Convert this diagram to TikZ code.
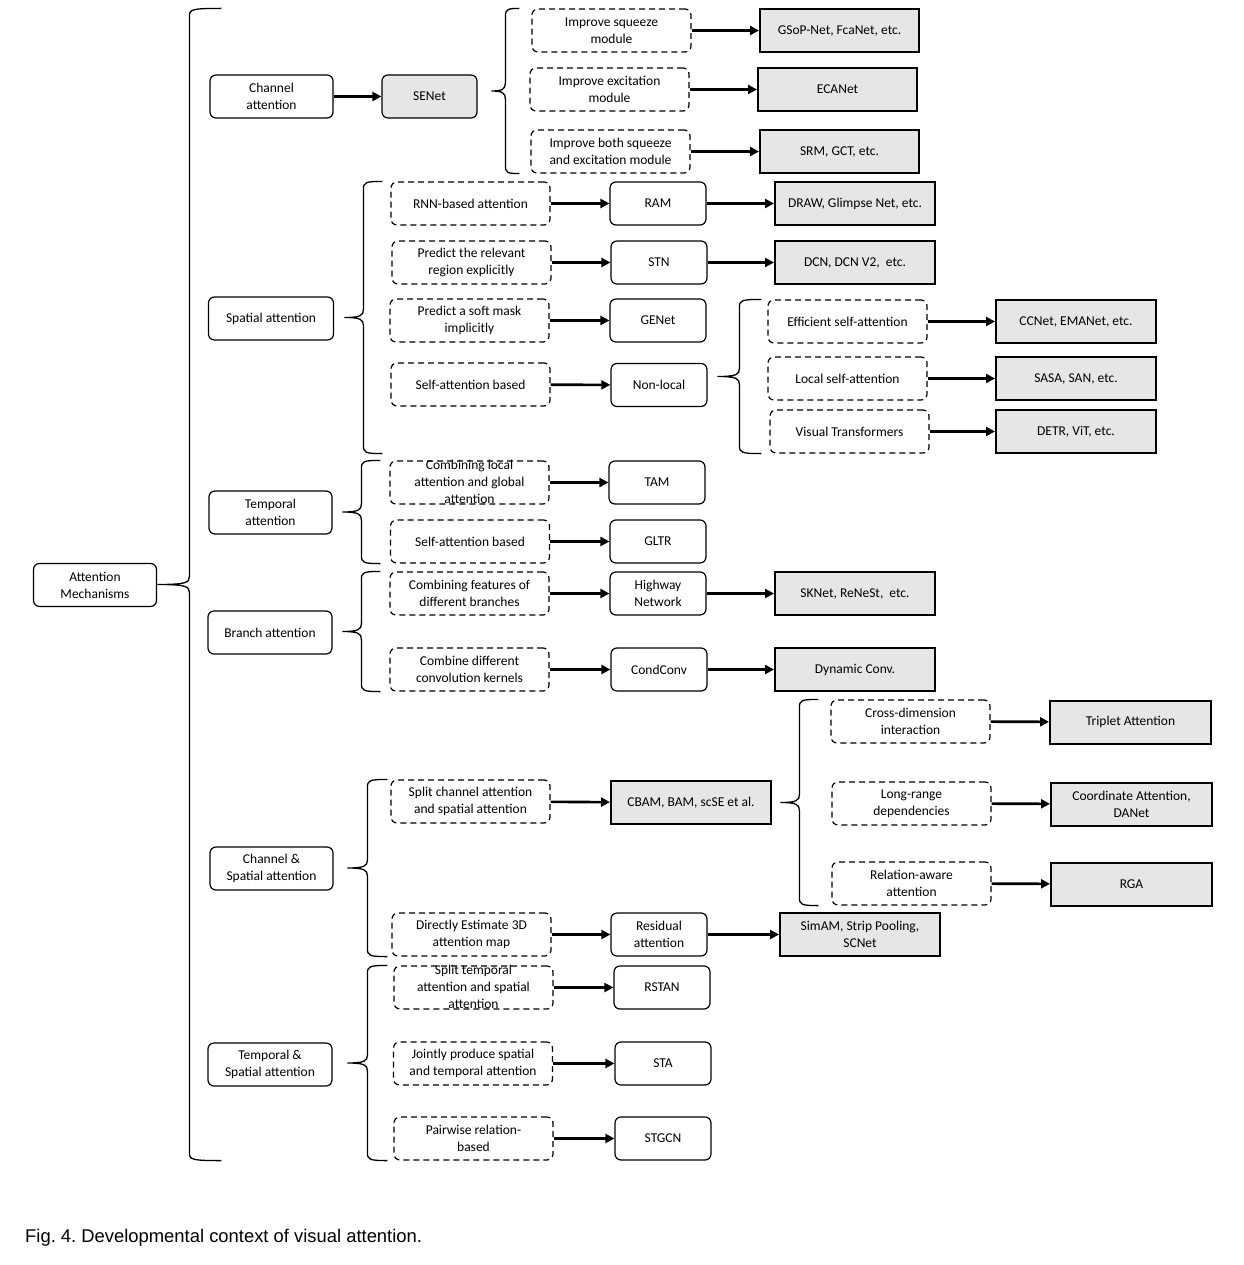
\documentclass[tikz,border=0pt]{standalone}
\usepackage{fontspec}
\setmainfont{Carlito}
\newfontfamily\capfont{Liberation Sans}
\usepackage{tikz}
\usetikzlibrary{arrows.meta,calc}

\definecolor{boxgray}{HTML}{E6E6E6}
\frenchspacing

% curly brace from a parent to the column of its children
% #1 node giving x, #2 top node, #3 bottom node, #4 gap left of #1, #5 tip depth
\newcommand{\attnbrace}[5]{%
  \draw[bracestroke] let \p1=(#1.west), \p2=(#2.north), \p3=(#3.south),
      \n1={\x1-#4pt}, \n2={(\y2+\y3)/2}, \n3={#5pt} in
    ({\n1+\n3},\y2) .. controls ({\n1+2pt},\y2) and (\n1,{\y2-1pt}) .. (\n1,{\y2-8pt})
    -- (\n1,{\n2+8pt}) .. controls (\n1,{\n2+2pt}) and ({\n1-3pt},\n2) .. ({\n1-\n3},\n2)
    .. controls ({\n1-3pt},\n2) and (\n1,{\n2-2pt}) .. (\n1,{\n2-8pt})
    -- (\n1,{\y3+8pt}) .. controls (\n1,{\y3+1pt}) and ({\n1+2pt},\y3) .. ({\n1+\n3},\y3);
}

\begin{document}
\begin{tikzpicture}[
    x=1pt, y=-1pt,
    basebox/.style={draw, line width=1.2pt, rounded corners=6pt, minimum height=43pt,
      inner sep=1pt, align=center, font=\fontsize{13.5}{17}\selectfont},
    catnode/.style={basebox, minimum width=123pt},
    ideanode/.style={basebox, dash pattern=on 6pt off 4pt, minimum width=159pt},
    modelnode/.style={basebox, minimum width=96pt},
    worknode/.style={basebox, sharp corners, line width=2pt, fill=boxgray, minimum width=160pt},
    arr/.style={line width=2.6pt, -{Triangle[length=9pt,width=9pt]}},
    bracestroke/.style={line width=1.3pt}
]
\useasboundingbox (0,0) rectangle (1243,1265);

% Root and main categories
\node[catnode] (root) at (95,585) {Attention\\Mechanisms};
\node[catnode] (chan) at (271.5,96.5) {Channel\\attention};
\node[catnode, minimum width=125pt] (spat) at (271,318.5) {Spatial attention};
\node[catnode] (temp) at (270.5,512.5) {Temporal\\attention};
\node[catnode, minimum width=124pt] (branch) at (270,632.5) {Branch attention};
\node[catnode] (chsp) at (271.5,868.5) {Channel \&\\Spatial attention};
\node[catnode, minimum width=124pt] (tesp) at (270,1064.5) {Temporal \&\\Spatial attention};

% Channel attention
\node[basebox, fill=boxgray, minimum width=95pt] (senet) at (429.5,96.5) {SENet};
\node[ideanode] (sq) at (611.5,30.5) {Improve squeeze\\module};
\node[ideanode] (ex) at (609.5,89.5) {Improve excitation\\module};
\node[ideanode] (both) at (610.5,151.5) {Improve both squeeze\\and excitation module};
\node[worknode, minimum width=159pt] (gsop) at (839.5,30.5) {GSoP-Net, FcaNet, etc.};
\node[worknode, minimum width=159pt] (eca) at (837.5,89.5) {ECANet};
\node[worknode, minimum width=159pt] (srm) at (839.5,151.5) {SRM, GCT, etc.};

% Spatial attention
\node[ideanode] (rnn) at (470.5,203.5) {RNN-based attention};
\node[ideanode] (prr) at (471.5,262.5) {Predict the relevant\\region explicitly};
\node[ideanode] (psm) at (469.5,320.5) {Predict a soft mask\\implicitly};
\node[ideanode] (sab) at (470.5,384.5) {Self-attention based};
\node[modelnode] (ram) at (658,203.5) {RAM};
\node[modelnode] (stn) at (659,262.5) {STN};
\node[modelnode] (genet) at (658,320.5) {GENet};
\node[modelnode] (nonlocal) at (659,385) {Non-local};
\node[worknode] (drawnet) at (855,203.5) {DRAW, Glimpse Net, etc.};
\node[worknode] (dcn) at (855,262.5) {DCN, DCN V2,~ etc.};
\node[ideanode] (eff) at (847.5,321.5) {Efficient self-attention};
\node[ideanode] (loc) at (847.5,378.5) {Local self-attention};
\node[ideanode] (vt) at (849.5,431.5) {Visual Transformers};
\node[worknode] (ccnet) at (1076,321.5) {CCNet, EMANet, etc.};
\node[worknode] (sasa) at (1076,378.5) {SASA, SAN, etc.};
\node[worknode] (detr) at (1076,431.5) {DETR, ViT, etc.};

% Temporal attention
\node[ideanode] (clg) at (469.5,482.5)
  {\smash{\raisebox{-4pt}{\begin{tabular}{@{}c@{}}Combining local\\attention and global\\attention\end{tabular}}}};
\node[ideanode] (tsa) at (470,541.5) {Self-attention based};
\node[modelnode] (tam) at (657,482.5) {TAM};
\node[modelnode] (gltr) at (658,541.5) {GLTR};

% Branch attention
\node[ideanode] (cfb) at (469.5,593.5) {Combining features of\\different branches};
\node[ideanode] (cdk) at (469.5,669.5) {Combine different\\convolution kernels};
\node[modelnode] (highway) at (658,593.5) {Highway\\Network};
\node[modelnode] (condconv) at (659,669.5) {CondConv};
\node[worknode] (sknet) at (855,593.5) {SKNet, ReNeSt,~ etc.};
\node[worknode] (dynconv) at (855,669.5) {Dynamic Conv.};

% Channel & spatial attention
\node[ideanode] (scs) at (470.5,801.5) {Split channel attention\\and spatial attention};
\node[ideanode] (de3) at (471.5,934.5) {Directly Estimate 3D\\attention map};
\node[worknode] (cbam) at (691,802.5) {CBAM, BAM, scSE et al.};
\node[modelnode] (resatt) at (659,934.5) {Residual\\attention};
\node[worknode] (simam) at (860,934.5) {SimAM, Strip Pooling,\\SCNet};
\node[ideanode] (cdi) at (910.5,721.5) {Cross-dimension\\interaction};
\node[ideanode] (lrd) at (911.5,803.5) {Long-range\\dependencies};
\node[ideanode] (rel) at (911.5,883.5) {Relation-aware\\attention};
\node[worknode, minimum width=161pt] (triplet) at (1130.5,722) {Triplet Attention};
\node[worknode, minimum width=161pt] (coord) at (1131.5,804) {Coordinate Attention,\\DANet};
\node[worknode, minimum width=161pt] (rga) at (1131.5,884) {RGA};

% Temporal & spatial attention
\node[ideanode] (sts) at (473.5,987.5)
  {\smash{\raisebox{-4pt}{\begin{tabular}{@{}c@{}}Split temporal\\attention and spatial\\attention\end{tabular}}}};
\node[ideanode] (jps) at (473,1063.5) {Jointly produce spatial\\and temporal attention};
\node[ideanode] (pw) at (473.5,1138.5) {Pairwise relation-\\based};
\node[modelnode] (rstan) at (662,987.5) {RSTAN};
\node[modelnode] (sta) at (663,1063.5) {STA};
\node[modelnode] (stgcn) at (663,1138.5) {STGCN};

% Braces
\attnbrace{chan}{sq}{pw}{20}{32}
\attnbrace{sq}{sq}{both}{26}{14}
\attnbrace{rnn}{rnn}{vt}{27}{19}
\attnbrace{eff}{eff}{vt}{28}{22}
\attnbrace{clg}{clg}{tsa}{28}{19}
\attnbrace{cfb}{cfb}{cdk}{28}{19}
\attnbrace{scs}{scs}{de3}{23}{20}
\attnbrace{cdi}{cdi}{rel}{31}{19}
\attnbrace{sts}{sts}{pw}{26}{20}

% Arrows
\foreach \a/\b in {chan/senet, sq/gsop, ex/eca, both/srm,
    rnn/ram, ram/drawnet, prr/stn, stn/dcn, psm/genet, sab/nonlocal,
    eff/ccnet, loc/sasa, vt/detr, clg/tam, tsa/gltr,
    cfb/highway, highway/sknet, cdk/condconv, condconv/dynconv,
    scs/cbam, de3/resatt, resatt/simam, cdi/triplet, lrd/coord, rel/rga,
    sts/rstan, jps/sta, pw/stgcn}{
  \draw[arr] (\a) -- (\b);
}

% Caption
\node[anchor=west, inner sep=0pt, font=\capfont\fontsize{18.4}{22}\selectfont] (caption) at (25,1238)
  {Fig. 4. Developmental context of visual attention.};

\end{tikzpicture}
\end{document}
